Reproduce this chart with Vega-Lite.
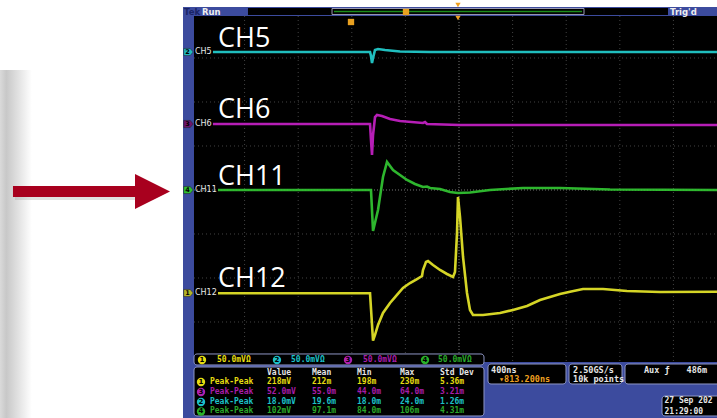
{
  "$schema": "https://vega.github.io/schema/vega-lite/v6.json",
  "width": 717,
  "height": 418,
  "padding": 0,
  "autosize": {"type": "none"},
  "background": "#ffffff",
  "config": {"view": {"stroke": null}},
  "resolve": {"scale": {"color": "independent", "fill": "independent"}},
  "datasets": {
    "traces": [
      {"c": "2", "x": 0.410, "y": 3.136}, {"c": "2", "x": 3.340, "y": 3.136}, {"c": "2", "x": 3.358, "y": 3.045}, {"c": "2", "x": 3.377, "y": 2.886}, {"c": "2", "x": 3.396, "y": 3.0}, {"c": "2", "x": 3.433, "y": 3.182}, {"c": "2", "x": 3.489, "y": 3.205}, {"c": "2", "x": 3.619, "y": 3.182}, {"c": "2", "x": 3.899, "y": 3.148}, {"c": "2", "x": 4.459, "y": 3.136}, {"c": "2", "x": 9.813, "y": 3.136},
      {"c": "3", "x": 0.410, "y": 1.5}, {"c": "3", "x": 3.340, "y": 1.5}, {"c": "3", "x": 3.358, "y": 1.136}, {"c": "3", "x": 3.377, "y": 0.795}, {"c": "3", "x": 3.396, "y": 1.25}, {"c": "3", "x": 3.433, "y": 1.659}, {"c": "3", "x": 3.470, "y": 1.705}, {"c": "3", "x": 3.563, "y": 1.682}, {"c": "3", "x": 3.713, "y": 1.614}, {"c": "3", "x": 3.899, "y": 1.568}, {"c": "3", "x": 4.328, "y": 1.523}, {"c": "3", "x": 4.366, "y": 1.545}, {"c": "3", "x": 4.403, "y": 1.5}, {"c": "3", "x": 5.019, "y": 1.477}, {"c": "3", "x": 9.813, "y": 1.477},
      {"c": "4", "x": 0.504, "y": 0}, {"c": "4", "x": 3.358, "y": 0}, {"c": "4", "x": 3.396, "y": -0.932}, {"c": "4", "x": 3.489, "y": -0.455}, {"c": "4", "x": 3.582, "y": 0.295}, {"c": "4", "x": 3.657, "y": 0.636}, {"c": "4", "x": 3.769, "y": 0.455}, {"c": "4", "x": 3.899, "y": 0.341}, {"c": "4", "x": 4.030, "y": 0.227}, {"c": "4", "x": 4.179, "y": 0.136}, {"c": "4", "x": 4.328, "y": 0.068}, {"c": "4", "x": 4.403, "y": 0.080}, {"c": "4", "x": 4.459, "y": 0.045}, {"c": "4", "x": 4.646, "y": 0.023}, {"c": "4", "x": 4.832, "y": -0.045}, {"c": "4", "x": 4.981, "y": -0.068}, {"c": "4", "x": 5.205, "y": -0.057}, {"c": "4", "x": 5.578, "y": 0}, {"c": "4", "x": 6.194, "y": 0.045}, {"c": "4", "x": 6.884, "y": 0.045}, {"c": "4", "x": 7.817, "y": 0.011}, {"c": "4", "x": 9.813, "y": 0},
      {"c": "1", "x": 0.504, "y": -2.348}, {"c": "1", "x": 3.340, "y": -2.348}, {"c": "1", "x": 3.396, "y": -3.425}, {"c": "1", "x": 3.433, "y": -3.295}, {"c": "1", "x": 3.489, "y": -3.068}, {"c": "1", "x": 3.582, "y": -2.795}, {"c": "1", "x": 3.713, "y": -2.568}, {"c": "1", "x": 3.843, "y": -2.386}, {"c": "1", "x": 3.955, "y": -2.227}, {"c": "1", "x": 4.086, "y": -2.114}, {"c": "1", "x": 4.216, "y": -2.023}, {"c": "1", "x": 4.310, "y": -1.955}, {"c": "1", "x": 4.328, "y": -1.818}, {"c": "1", "x": 4.384, "y": -1.636}, {"c": "1", "x": 4.422, "y": -1.614}, {"c": "1", "x": 4.515, "y": -1.705}, {"c": "1", "x": 4.646, "y": -1.818}, {"c": "1", "x": 4.776, "y": -1.909}, {"c": "1", "x": 4.888, "y": -1.977}, {"c": "1", "x": 4.925, "y": -1.864}, {"c": "1", "x": 4.963, "y": -0.977}, {"c": "1", "x": 4.981, "y": -0.159}, {"c": "1", "x": 5.019, "y": -0.614}, {"c": "1", "x": 5.075, "y": -1.523}, {"c": "1", "x": 5.149, "y": -2.341}, {"c": "1", "x": 5.205, "y": -2.727}, {"c": "1", "x": 5.261, "y": -2.841}, {"c": "1", "x": 5.448, "y": -2.841}, {"c": "1", "x": 5.765, "y": -2.795}, {"c": "1", "x": 6.007, "y": -2.727}, {"c": "1", "x": 6.269, "y": -2.636}, {"c": "1", "x": 6.511, "y": -2.5}, {"c": "1", "x": 6.884, "y": -2.364}, {"c": "1", "x": 7.071, "y": -2.311}, {"c": "1", "x": 7.313, "y": -2.25}, {"c": "1", "x": 7.687, "y": -2.25}, {"c": "1", "x": 8.134, "y": -2.295}, {"c": "1", "x": 8.750, "y": -2.318}, {"c": "1", "x": 9.813, "y": -2.311}
    ],
    "panels": [
      {"part": "frame", "x": -0.149, "x2": 9.813, "y": 4.159, "y2": -5.182},
      {"part": "plot", "x": 0.056, "x2": 9.813, "y": 3.955, "y2": -3.909},
      {"part": "record", "x": 1.063, "x2": 8.899, "y": 4.136, "y2": 3.977}
    ],
    "boxes": [
      {"box": "readouts", "x": 0.056, "x2": 5.466, "y": -3.727, "y2": -3.977},
      {"box": "measurements", "x": 0.056, "x2": 5.466, "y": -4.023, "y2": -5.136},
      {"box": "timebase", "x": 5.541, "x2": 6.996, "y": -3.955, "y2": -4.409},
      {"box": "sampling", "x": 7.052, "x2": 8.041, "y": -3.955, "y2": -4.409},
      {"box": "trigger", "x": 8.097, "x2": 9.95, "y": -3.955, "y2": -4.409},
      {"box": "date", "x": 8.787, "x2": 9.95, "y": -4.682, "y2": -5.136}
    ],
    "labels": [
      {"t": "CH5", "x": 0.504, "y": 3.25},
      {"t": "CH6", "x": 0.504, "y": 1.636},
      {"t": "CH11", "x": 0.504, "y": 0.114},
      {"t": "CH12", "x": 0.504, "y": -2.205}
    ],
    "chmarks": [
      {"n": "2", "c": "2", "lab": "CH5", "y": 3.136},
      {"n": "3", "c": "3d", "lab": "CH6", "y": 1.5},
      {"n": "4", "c": "4", "lab": "CH11", "y": 0.0},
      {"n": "1", "c": "1d", "lab": "CH12", "y": -2.341}
    ],
    "badges": [
      {"n": "1", "c": "1", "x": 0.205, "y": -3.864},
      {"n": "2", "c": "2", "x": 1.604, "y": -3.864},
      {"n": "3", "c": "3", "x": 2.929, "y": -3.864},
      {"n": "4", "c": "4", "x": 4.366, "y": -3.864},
      {"n": "1", "c": "1", "x": 0.187, "y": -4.364},
      {"n": "3", "c": "3", "x": 0.187, "y": -4.591},
      {"n": "2", "c": "2", "x": 0.187, "y": -4.818},
      {"n": "4", "c": "4", "x": 0.187, "y": -5.034}
    ],
    "scopetext": [
      {"t": "50.0mVΩ", "c": "1", "x": 0.485, "y": -3.864},
      {"t": "50.0mVΩ", "c": "2", "x": 1.866, "y": -3.864},
      {"t": "50.0mVΩ", "c": "3", "x": 3.209, "y": -3.864},
      {"t": "50.0mVΩ", "c": "4", "x": 4.608, "y": -3.864},
      {"t": "Value", "c": "w", "x": 1.418, "y": -4.159},
      {"t": "Mean", "c": "w", "x": 2.257, "y": -4.159},
      {"t": "Min", "c": "w", "x": 3.097, "y": -4.159},
      {"t": "Max", "c": "w", "x": 3.899, "y": -4.159},
      {"t": "Std Dev", "c": "w", "x": 4.646, "y": -4.159},
      {"t": "Peak-Peak", "c": "1", "x": 0.354, "y": -4.364},
      {"t": "218mV", "c": "1", "x": 1.418, "y": -4.364},
      {"t": "212m", "c": "1", "x": 2.257, "y": -4.364},
      {"t": "198m", "c": "1", "x": 3.097, "y": -4.364},
      {"t": "230m", "c": "1", "x": 3.899, "y": -4.364},
      {"t": "5.36m", "c": "1", "x": 4.646, "y": -4.364},
      {"t": "Peak-Peak", "c": "3", "x": 0.354, "y": -4.591},
      {"t": "52.0mV", "c": "3", "x": 1.418, "y": -4.591},
      {"t": "55.0m", "c": "3", "x": 2.257, "y": -4.591},
      {"t": "44.0m", "c": "3", "x": 3.097, "y": -4.591},
      {"t": "64.0m", "c": "3", "x": 3.899, "y": -4.591},
      {"t": "3.21m", "c": "3", "x": 4.646, "y": -4.591},
      {"t": "Peak-Peak", "c": "2", "x": 0.354, "y": -4.818},
      {"t": "18.0mV", "c": "2", "x": 1.418, "y": -4.818},
      {"t": "19.6m", "c": "2", "x": 2.257, "y": -4.818},
      {"t": "18.0m", "c": "2", "x": 3.097, "y": -4.818},
      {"t": "24.0m", "c": "2", "x": 3.899, "y": -4.818},
      {"t": "1.26m", "c": "2", "x": 4.646, "y": -4.818},
      {"t": "Peak-Peak", "c": "4", "x": 0.354, "y": -5.034},
      {"t": "102mV", "c": "4", "x": 1.418, "y": -5.034},
      {"t": "97.1m", "c": "4", "x": 2.257, "y": -5.034},
      {"t": "84.0m", "c": "4", "x": 3.097, "y": -5.034},
      {"t": "106m", "c": "4", "x": 3.899, "y": -5.034},
      {"t": "4.31m", "c": "4", "x": 4.646, "y": -5.034}
    ],
    "infotext": [
      {"t": "400ns", "c": "w", "x": 5.597, "y": -4.091},
      {"t": "▾813.200ns", "c": "o", "x": 5.746, "y": -4.295},
      {"t": "2.50GS/s", "c": "w", "x": 7.127, "y": -4.091},
      {"t": "10k points", "c": "w", "x": 7.127, "y": -4.295},
      {"t": "Aux ƒ", "c": "w", "x": 8.451, "y": -4.091},
      {"t": "486m", "c": "w", "x": 9.246, "y": -4.091}
    ],
    "datetext": [
      {"t": "27 Sep 202", "x": 8.834, "y": -4.795},
      {"t": "21:29:00", "x": 8.834, "y": -5.045}
    ],
    "statustext": [
      {"t": "Tek", "c": "k", "x": -0.131, "y": 4.045},
      {"t": "Run", "c": "w", "x": 0.205, "y": 4.045},
      {"t": "Trig'd", "c": "w", "x": 8.937, "y": 4.045}
    ]
  },
  "layer": [
    {
      "data": {"values": [{"x": -3.563, "x2": -2.97, "y": 2.727, "y2": -5.182}]},
      "mark": {"type": "rect", "color": {"gradient": "linear", "x1": 0, "x2": 1, "y1": 0, "y2": 0, "stops": [{"offset": 0, "color": "#dadada"}, {"offset": 0.2, "color": "#c8c8c8"}, {"offset": 1, "color": "#ffffff"}]}},
      "encoding": {
        "x": {"field": "x", "type": "quantitative", "scale": {"domain": [-3.563, 9.813], "nice": false, "zero": false}, "axis": null},
        "x2": {"field": "x2"},
        "y": {"field": "y", "type": "quantitative", "scale": {"domain": [-5.182, 4.318], "nice": false, "zero": false}, "axis": null},
        "y2": {"field": "y2"}
      }
    },
    {
      "data": {"name": "panels"},
      "mark": {"type": "rect"},
      "encoding": {
        "x": {"field": "x", "type": "quantitative", "scale": {"domain": [-3.563, 9.813], "nice": false, "zero": false}, "axis": null},
        "x2": {"field": "x2"},
        "y": {"field": "y", "type": "quantitative", "scale": {"domain": [-5.182, 4.318], "nice": false, "zero": false}, "axis": null},
        "y2": {"field": "y2"},
        "fill": {"field": "part", "type": "nominal", "scale": {"domain": ["frame", "plot", "record"], "range": ["#3c4b9e", "#000000", "#000000"]}, "legend": null}
      }
    },
    {
      "data": {"values": [{"x": 2.631, "x2": 7.332, "y": 4.125, "y2": 3.989}]},
      "mark": {"type": "rect", "fill": null, "stroke": "#9a9ab4", "strokeWidth": 1},
      "encoding": {
        "x": {"field": "x", "type": "quantitative", "scale": {"domain": [-3.563, 9.813], "nice": false, "zero": false}, "axis": null},
        "x2": {"field": "x2"},
        "y": {"field": "y", "type": "quantitative", "scale": {"domain": [-5.182, 4.318], "nice": false, "zero": false}, "axis": null},
        "y2": {"field": "y2"}
      }
    },
    {
      "data": {"values": [{"x": 2.668, "x2": 7.295, "y": 4.057}]},
      "mark": {"type": "rule", "color": "#1c8c1c", "strokeWidth": 1.5},
      "encoding": {
        "x": {"field": "x", "type": "quantitative", "scale": {"domain": [-3.563, 9.813], "nice": false, "zero": false}, "axis": null},
        "x2": {"field": "x2"},
        "y": {"field": "y", "type": "quantitative", "scale": {"domain": [-5.182, 4.318], "nice": false, "zero": false}, "axis": null}
      }
    },
    {
      "data": {"values": [{"x": 1}, {"x": 2}, {"x": 3}, {"x": 4}, {"x": 6}, {"x": 7}, {"x": 8}, {"x": 9}]},
      "mark": {"type": "rule", "color": "#444444", "strokeWidth": 1, "strokeDash": [1, 3]},
      "encoding": {
        "x": {"field": "x", "type": "quantitative", "scale": {"domain": [-3.563, 9.813], "nice": false, "zero": false}, "axis": null},
        "y": {"datum": 3.955, "type": "quantitative", "scale": {"domain": [-5.182, 4.318], "nice": false, "zero": false}, "axis": null},
        "y2": {"datum": -3.909}
      }
    },
    {
      "data": {"values": [{"y": 3}, {"y": 2}, {"y": 1}, {"y": -1}, {"y": -2}, {"y": -3}]},
      "mark": {"type": "rule", "color": "#444444", "strokeWidth": 1, "strokeDash": [1, 3]},
      "encoding": {
        "y": {"field": "y", "type": "quantitative", "scale": {"domain": [-5.182, 4.318], "nice": false, "zero": false}, "axis": null},
        "x": {"datum": 0.056, "type": "quantitative", "scale": {"domain": [-3.563, 9.813], "nice": false, "zero": false}, "axis": null},
        "x2": {"datum": 9.813}
      }
    },
    {
      "data": {"values": [{"x": 5}]},
      "mark": {"type": "rule", "color": "#7a7a7a", "strokeWidth": 1, "strokeDash": [1, 2]},
      "encoding": {
        "x": {"field": "x", "type": "quantitative", "scale": {"domain": [-3.563, 9.813], "nice": false, "zero": false}, "axis": null},
        "y": {"datum": 3.955, "type": "quantitative", "scale": {"domain": [-5.182, 4.318], "nice": false, "zero": false}, "axis": null},
        "y2": {"datum": -3.909}
      }
    },
    {
      "data": {"values": [{"y": 0}]},
      "mark": {"type": "rule", "color": "#7a7a7a", "strokeWidth": 1, "strokeDash": [1, 2]},
      "encoding": {
        "y": {"field": "y", "type": "quantitative", "scale": {"domain": [-5.182, 4.318], "nice": false, "zero": false}, "axis": null},
        "x": {"datum": 0.056, "type": "quantitative", "scale": {"domain": [-3.563, 9.813], "nice": false, "zero": false}, "axis": null},
        "x2": {"datum": 9.813}
      }
    },
    {
      "data": {"name": "traces"},
      "mark": {"type": "line", "strokeWidth": 2.6, "opacity": 0.95},
      "encoding": {
        "x": {"field": "x", "type": "quantitative", "scale": {"domain": [-3.563, 9.813], "nice": false, "zero": false}, "axis": null},
        "y": {"field": "y", "type": "quantitative", "scale": {"domain": [-5.182, 4.318], "nice": false, "zero": false}, "axis": null},
        "color": {"field": "c", "type": "nominal", "scale": {"domain": ["1", "2", "3", "4"], "range": ["#e0e028", "#22c8c8", "#c020c0", "#30c030"]}, "legend": null}
      }
    },
    {
      "data": {"name": "labels"},
      "mark": {"type": "text", "font": "Open Sans", "fontSize": 27, "color": "#ffffff", "align": "left", "baseline": "alphabetic"},
      "encoding": {
        "x": {"field": "x", "type": "quantitative", "scale": {"domain": [-3.563, 9.813], "nice": false, "zero": false}, "axis": null},
        "y": {"field": "y", "type": "quantitative", "scale": {"domain": [-5.182, 4.318], "nice": false, "zero": false}, "axis": null},
        "text": {"field": "t"}
      }
    },
    {
      "data": {"name": "chmarks"},
      "mark": {"type": "point", "shape": "M-1,-0.75L0.35,-0.75L1,0L0.35,0.75L-1,0.75Z", "size": 90, "filled": true, "opacity": 1, "stroke": "#202020", "strokeWidth": 0.5},
      "encoding": {
        "x": {"datum": -0.047, "type": "quantitative", "scale": {"domain": [-3.563, 9.813], "nice": false, "zero": false}, "axis": null},
        "y": {"field": "y", "type": "quantitative", "scale": {"domain": [-5.182, 4.318], "nice": false, "zero": false}, "axis": null},
        "fill": {"field": "c", "type": "nominal", "scale": {"domain": ["1d", "2", "3d", "4"], "range": ["#b4b428", "#20b8c0", "#6c146c", "#30c030"]}, "legend": null}
      }
    },
    {
      "data": {"name": "chmarks"},
      "mark": {"type": "text", "font": "DejaVu Sans", "fontSize": 6.5, "fontWeight": "bold", "color": "#000000", "align": "center", "baseline": "middle", "dx": -1},
      "encoding": {
        "x": {"datum": -0.047, "type": "quantitative", "scale": {"domain": [-3.563, 9.813], "nice": false, "zero": false}, "axis": null},
        "y": {"field": "y", "type": "quantitative", "scale": {"domain": [-5.182, 4.318], "nice": false, "zero": false}, "axis": null},
        "text": {"field": "n"}
      }
    },
    {
      "data": {"name": "chmarks"},
      "mark": {"type": "text", "font": "DejaVu Sans", "fontSize": 8, "color": "#e8e8e8", "align": "left", "baseline": "middle"},
      "encoding": {
        "x": {"datum": 0.075, "type": "quantitative", "scale": {"domain": [-3.563, 9.813], "nice": false, "zero": false}, "axis": null},
        "y": {"field": "y", "type": "quantitative", "scale": {"domain": [-5.182, 4.318], "nice": false, "zero": false}, "axis": null},
        "text": {"field": "lab"}
      }
    },
    {
      "data": {"values": [{"m": "trigger position", "x": 4.981, "y": 4.205}, {"m": "trigger position", "x": 4.981, "y": 3.909}]},
      "mark": {"type": "point", "shape": "triangle-down", "size": 28, "filled": true, "color": "#f0a020", "opacity": 1},
      "encoding": {
        "x": {"field": "x", "type": "quantitative", "scale": {"domain": [-3.563, 9.813], "nice": false, "zero": false}, "axis": null},
        "y": {"field": "y", "type": "quantitative", "scale": {"domain": [-5.182, 4.318], "nice": false, "zero": false}, "axis": null}
      }
    },
    {
      "data": {"values": [{"m": "T", "x": 2.985, "y": 3.818}, {"m": "T", "x": 4.011, "y": 4.045}, {"m": "T", "x": 5.662, "y": -4.295}]},
      "mark": {"type": "point", "shape": "square", "filled": true, "color": "#e8a020", "opacity": 1, "size": 40},
      "encoding": {
        "x": {"field": "x", "type": "quantitative", "scale": {"domain": [-3.563, 9.813], "nice": false, "zero": false}, "axis": null},
        "y": {"field": "y", "type": "quantitative", "scale": {"domain": [-5.182, 4.318], "nice": false, "zero": false}, "axis": null}
      }
    },
    {
      "data": {"values": [{"x": -3.284, "x2": -0.989, "y": 0.023, "y2": -0.227}]},
      "mark": {"type": "rect", "color": "#9a9a9a", "opacity": 0.3},
      "encoding": {
        "x": {"field": "x", "type": "quantitative", "scale": {"domain": [-3.563, 9.813], "nice": false, "zero": false}, "axis": null},
        "x2": {"field": "x2"},
        "y": {"field": "y", "type": "quantitative", "scale": {"domain": [-5.182, 4.318], "nice": false, "zero": false}, "axis": null},
        "y2": {"field": "y2"}
      }
    },
    {
      "data": {"values": [{"x": -3.321, "x2": -1.026, "y": 0.091, "y2": -0.159}]},
      "mark": {"type": "rect", "color": "#a8001e"},
      "encoding": {
        "x": {"field": "x", "type": "quantitative", "scale": {"domain": [-3.563, 9.813], "nice": false, "zero": false}, "axis": null},
        "x2": {"field": "x2"},
        "y": {"field": "y", "type": "quantitative", "scale": {"domain": [-5.182, 4.318], "nice": false, "zero": false}, "axis": null},
        "y2": {"field": "y2"}
      }
    },
    {
      "data": {"values": [{"x": -1.045, "y": 0.364, "y2": -0.432}, {"x": -0.392, "y": -0.034, "y2": -0.034}]},
      "mark": {"type": "area", "color": "#a8001e", "opacity": 1},
      "encoding": {
        "x": {"field": "x", "type": "quantitative", "scale": {"domain": [-3.563, 9.813], "nice": false, "zero": false}, "axis": null},
        "y": {"field": "y", "type": "quantitative", "scale": {"domain": [-5.182, 4.318], "nice": false, "zero": false}, "axis": null},
        "y2": {"field": "y2"}
      }
    },
    {
      "data": {"name": "boxes"},
      "mark": {"type": "rect", "fill": "#000000", "stroke": "#8e96c4", "strokeWidth": 1, "cornerRadius": 3},
      "encoding": {
        "x": {"field": "x", "type": "quantitative", "scale": {"domain": [-3.563, 9.813], "nice": false, "zero": false}, "axis": null},
        "x2": {"field": "x2"},
        "y": {"field": "y", "type": "quantitative", "scale": {"domain": [-5.182, 4.318], "nice": false, "zero": false}, "axis": null},
        "y2": {"field": "y2"}
      }
    },
    {
      "data": {"name": "badges"},
      "mark": {"type": "point", "shape": "circle", "size": 70, "filled": true, "opacity": 1},
      "encoding": {
        "x": {"field": "x", "type": "quantitative", "scale": {"domain": [-3.563, 9.813], "nice": false, "zero": false}, "axis": null},
        "y": {"field": "y", "type": "quantitative", "scale": {"domain": [-5.182, 4.318], "nice": false, "zero": false}, "axis": null},
        "fill": {"field": "c", "type": "nominal", "scale": {"domain": ["1", "2", "3", "4"], "range": ["#e6dc10", "#1cc0c8", "#b020b0", "#28b028"]}, "legend": null}
      }
    },
    {
      "data": {"name": "badges"},
      "mark": {"type": "text", "font": "DejaVu Sans", "fontSize": 7, "fontWeight": "bold", "color": "#000000", "align": "center", "baseline": "middle"},
      "encoding": {
        "x": {"field": "x", "type": "quantitative", "scale": {"domain": [-3.563, 9.813], "nice": false, "zero": false}, "axis": null},
        "y": {"field": "y", "type": "quantitative", "scale": {"domain": [-5.182, 4.318], "nice": false, "zero": false}, "axis": null},
        "text": {"field": "n"}
      }
    },
    {
      "data": {"name": "scopetext"},
      "mark": {"type": "text", "font": "DejaVu Sans Mono", "fontSize": 8, "fontWeight": "bold", "align": "left", "baseline": "middle"},
      "encoding": {
        "x": {"field": "x", "type": "quantitative", "scale": {"domain": [-3.563, 9.813], "nice": false, "zero": false}, "axis": null},
        "y": {"field": "y", "type": "quantitative", "scale": {"domain": [-5.182, 4.318], "nice": false, "zero": false}, "axis": null},
        "text": {"field": "t"},
        "fill": {"field": "c", "type": "nominal", "scale": {"domain": ["1", "2", "3", "4", "w"], "range": ["#e6dc10", "#1cc0c8", "#a81ca8", "#2aa82a", "#e6e6e6"]}, "legend": null}
      }
    },
    {
      "data": {"name": "infotext"},
      "mark": {"type": "text", "font": "DejaVu Sans Mono", "fontSize": 8.5, "fontWeight": "bold", "align": "left", "baseline": "middle"},
      "encoding": {
        "x": {"field": "x", "type": "quantitative", "scale": {"domain": [-3.563, 9.813], "nice": false, "zero": false}, "axis": null},
        "y": {"field": "y", "type": "quantitative", "scale": {"domain": [-5.182, 4.318], "nice": false, "zero": false}, "axis": null},
        "text": {"field": "t"},
        "fill": {"field": "c", "type": "nominal", "scale": {"domain": ["w", "o"], "range": ["#e6e6e6", "#f0a020"]}, "legend": null}
      }
    },
    {
      "data": {"name": "datetext"},
      "mark": {"type": "text", "font": "DejaVu Sans Mono", "fontSize": 8, "fontWeight": "bold", "align": "left", "baseline": "middle", "color": "#e6e6e6"},
      "encoding": {
        "x": {"field": "x", "type": "quantitative", "scale": {"domain": [-3.563, 9.813], "nice": false, "zero": false}, "axis": null},
        "y": {"field": "y", "type": "quantitative", "scale": {"domain": [-5.182, 4.318], "nice": false, "zero": false}, "axis": null},
        "text": {"field": "t"}
      }
    },
    {
      "data": {"name": "statustext"},
      "mark": {"type": "text", "font": "DejaVu Sans", "fontSize": 8.5, "fontWeight": "bold", "align": "left", "baseline": "middle"},
      "encoding": {
        "x": {"field": "x", "type": "quantitative", "scale": {"domain": [-3.563, 9.813], "nice": false, "zero": false}, "axis": null},
        "y": {"field": "y", "type": "quantitative", "scale": {"domain": [-5.182, 4.318], "nice": false, "zero": false}, "axis": null},
        "text": {"field": "t"},
        "fill": {"field": "c", "type": "nominal", "scale": {"domain": ["k", "w"], "range": ["#1a2466", "#eeeeee"]}, "legend": null}
      }
    }
  ]
}
